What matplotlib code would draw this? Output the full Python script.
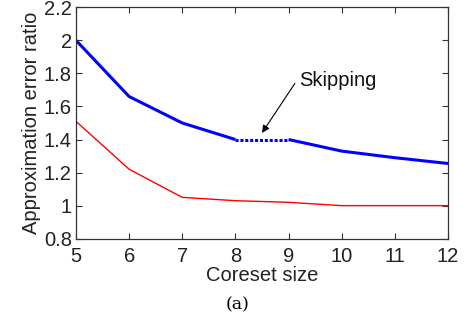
import matplotlib
matplotlib.use('Agg')
import matplotlib.pyplot as plt

sizes = [5, 6, 7, 8, 9, 10, 11, 12]
blue_vals = [2.0, 1.66, 1.5, 1.4, 1.4, 1.33, 1.29, 1.255]
red_vals = [1.51, 1.22, 1.05, 1.03, 1.02, 1.0, 1.0, 1.0]
yticks = [0.8, 1, 1.2, 1.4, 1.6, 1.8, 2, 2.2]
ytick_labels = ['0.8', '1', '1.2', '1.4', '1.6', '1.8', '2', '2.2']

plt.rcParams['font.family'] = ['Liberation Sans', 'DejaVu Sans']

fig = plt.figure(figsize=(4.69, 3.21), dpi=100)
ax = fig.add_axes([76/469, 1 - 238.7/321, 372/469, 231.4/321])

# blue line: solid, dotted between 8 and 9 (skipped)
ax.plot(sizes[:4], blue_vals[:4], color='#0000ff', lw=2.2, solid_capstyle='butt')
ax.plot(sizes[3:5], blue_vals[3:5], color='#0000ff', lw=2.2, ls=(0, (1, 0.6)))
ax.plot(sizes[4:], blue_vals[4:], color='#0000ff', lw=2.2, solid_capstyle='butt')
ax.plot(sizes, red_vals, color='#ff0000', lw=1.0)

ax.set_xlim(5, 12)
ax.set_ylim(0.8, 2.2)
ax.set_xticks(sizes)
ax.set_yticks(yticks)
ax.set_yticklabels(ytick_labels)
ax.tick_params(direction='in', top=True, right=True, labelsize=14.5, length=4,
               color='#333333', labelcolor='#222222')
ax.tick_params(axis='x', pad=6)
ax.tick_params(axis='y', pad=3)
for s in ax.spines.values():
    s.set_color('#333333')
    s.set_linewidth(0.9)

ax.set_xlabel('Coreset size', fontsize=14.5, color='#222222', labelpad=0)
ax.set_ylabel('Approximation error ratio', fontsize=14.5, color='#222222', labelpad=2)

ax.annotate('', xy=(8.5, 1.44), xytext=(9.12, 1.74),
            arrowprops=dict(arrowstyle='-|>', color='black', lw=0.8,
                            shrinkA=0, shrinkB=0, mutation_scale=11))
ax.text(9.19, 1.76, 'Skipping', fontsize=14.5, color='#111111', va='center', ha='left')

fig.text(238/469, 1 - 305/321, '(a)', fontsize=12.5, family='DejaVu Serif',
         ha='center', va='center')

fig.savefig('out.png', dpi=100)
